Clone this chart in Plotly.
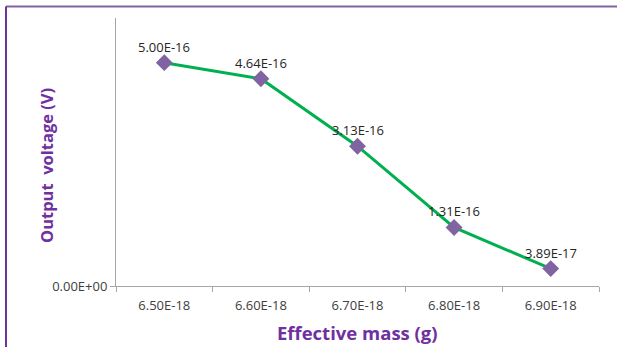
import plotly.graph_objects as go

categories = ["6.50E-18", "6.60E-18", "6.70E-18", "6.80E-18", "6.90E-18"]
voltage = [5.00e-16, 4.64e-16, 3.13e-16, 1.31e-16, 3.89e-17]
labels = ["5.00E-16", "4.64E-16", "3.13E-16", "1.31E-16", "3.89E-17"]

W, H = 617, 347
L, R, T, B = 116, 18, 18, 61
pw, ph = W - L - R, H - T - B

fig = go.Figure()
fig.add_trace(go.Scatter(
    x=categories, y=voltage, mode="lines+markers",
    line=dict(color="#00B050", width=3),
    marker=dict(symbol="diamond", size=13, color="#8064A2"),
    cliponaxis=False, showlegend=False,
))

# category axis: annotation x given as category index
annotations = [
    dict(x=i, y=v, text=t, xref="x", yref="y", showarrow=False, yshift=16,
         xanchor="center", yanchor="middle",
         font=dict(family="Open Sans", size=13, color="#262626"))
    for i, (v, t) in enumerate(zip(voltage, labels))
]
annotations += [
    dict(text="<b>Effective mass (g)</b>", xref="paper", yref="paper",
         x=(357 - L) / pw, y=1 - (332 - T) / ph, showarrow=False,
         font=dict(size=18.5, color="#7030A0"), xanchor="center", yanchor="middle"),
    dict(text="<b>Output\u00a0 voltage (V)</b>", xref="paper", yref="paper",
         x=(46 - L) / pw, y=1 - (166 - T) / ph, showarrow=False, textangle=-90,
         font=dict(size=16.5, color="#7030A0"), xanchor="center", yanchor="middle"),
]

fig.update_layout(
    width=W, height=H,
    margin=dict(l=L, r=R, t=T, b=B),
    paper_bgcolor="white", plot_bgcolor="white",
    font=dict(family="Open Sans", color="#404040"),
    xaxis=dict(type="category", categoryorder="array", categoryarray=categories,
               showgrid=False, showline=True, linecolor="#A6A6A6",
               linewidth=1, ticks="outside", tickson="boundaries", ticklen=5,
               tickcolor="#A6A6A6", tickfont=dict(size=13, color="#404040"),
               ticklabelstandoff=7, range=[-0.5, 4.5], zeroline=False),
    yaxis=dict(range=[0, 6e-16], showgrid=False, showline=True, linecolor="#A6A6A6",
               linewidth=1, ticks="outside", ticklen=5, tickcolor="#A6A6A6",
               tickvals=[0], ticktext=["0.00E+00"], tickfont=dict(size=13, color="#404040"),
               zeroline=False),
    annotations=annotations,
    shapes=[
        dict(type="line", xref="paper", yref="paper",
             x0=(6 - L) / pw, x1=(W + 5 - L) / pw, y0=1 + (T - 6.5) / ph, y1=1 + (T - 6.5) / ph,
             line=dict(color="#8064A2", width=2)),
        dict(type="line", xref="paper", yref="paper",
             x0=(6 - L) / pw, x1=(6 - L) / pw, y0=1 + (T - 6.5) / ph, y1=-(B + 5) / ph,
             line=dict(color="#7030A0", width=2)),
    ],
)

fig.write_html("out.html")
